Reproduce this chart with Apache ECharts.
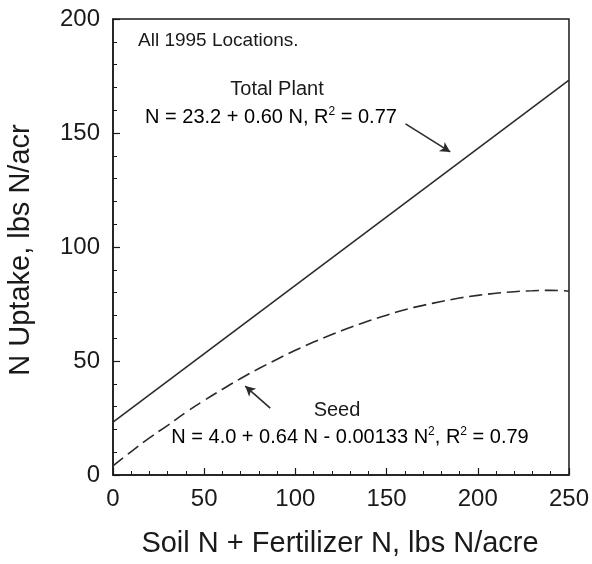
<!DOCTYPE html>
<html>
<head>
<meta charset="utf-8">
<script src="https://cdn.jsdelivr.net/npm/echarts@6/dist/echarts.min.js"></script>
<style>
html,body{margin:0;padding:0;background:#fff;}
#chart{width:592px;height:564px;}
</style>
</head>
<body>
<div id="chart"></div>
<script>
// Data
const totalPlantX = [0, 250];
const totalPlantY = [23.2, 173.2];
const seedX = [0, 10, 20, 30, 40, 50, 60, 70, 80, 90, 100, 110, 120, 130, 140, 150, 160, 170, 180, 190, 200, 210, 220, 230, 240, 250];
const seedY = [4.0, 10.3, 16.3, 21.8, 27.5, 32.7, 37.6, 42.3, 46.7, 50.8, 54.7, 58.3, 61.6, 64.7, 67.5, 70.1, 72.5, 74.4, 76.1, 77.6, 78.8, 79.7, 80.4, 80.8, 81.0, 80.6];
const totalArrow = [[160.4, 154], [184.9, 141.7]];
const seedArrow = [[86.2, 29.3], [72.5, 39]];
const xTicks = [0, 50, 100, 150, 200, 250];
const yTicks = [0, 50, 100, 150, 200];
const xTitle = 'Soil N + Fertilizer N, lbs N/acre';
const yTitle = 'N Uptake, lbs N/acr';
const noteText = 'All 1995 Locations.';
const totalLabel = 'Total Plant';
const seedLabel = 'Seed';

const FONT = '"Liberation Sans", Arial, Helvetica, sans-serif';
const INK = '#1a1a1a';

const chart = echarts.init(document.getElementById('chart'), null, {renderer: 'canvas'});

function pairs(xs, ys) { return xs.map((x, i) => [x, ys[i]]); }

const eqRich = {
  n: {fontSize: 20, fontFamily: FONT, color: INK, lineHeight: 24},
  s: {fontSize: 12, fontFamily: FONT, color: INK, lineHeight: 24, padding: [0, 0, 10, 0]}
};

const option = {
  animation: false,
  backgroundColor: '#fff',
  grid: {left: 113, right: 20, top: 19, bottom: 89, show: true, borderColor: INK, borderWidth: 1.5, backgroundColor: 'transparent'},
  xAxis: {
    type: 'value', min: xTicks[0], max: xTicks[xTicks.length - 1], interval: 50,
    axisLine: {lineStyle: {color: INK, width: 1.5}},
    axisTick: {inside: true, length: 7, lineStyle: {color: INK, width: 1.2}},
    minorTick: {show: true, splitNumber: 5, length: 4, lineStyle: {color: INK, width: 1}},
    splitLine: {show: false},
    axisLabel: {fontSize: 24, fontFamily: FONT, color: INK, margin: 12}
  },
  yAxis: {
    type: 'value', min: yTicks[0], max: yTicks[yTicks.length - 1], interval: 50,
    axisLine: {lineStyle: {color: INK, width: 1.5}},
    axisTick: {inside: true, length: 7, lineStyle: {color: INK, width: 1.2}},
    minorTick: {show: true, splitNumber: 5, length: 4, lineStyle: {color: INK, width: 1}},
    splitLine: {show: false},
    axisLabel: {fontSize: 24, fontFamily: FONT, color: INK, margin: 13}
  },
  series: [
    {
      type: 'line', name: 'Total Plant', data: pairs(totalPlantX, totalPlantY),
      showSymbol: false, symbol: 'none',
      lineStyle: {color: '#2a2a2a', width: 1.6},
      markLine: {
        silent: true, symbol: ['none', 'arrow'], symbolSize: [8, 10],
        lineStyle: {color: '#2a2a2a', width: 1.6, type: 'solid'},
        label: {show: false},
        data: [[{coord: totalArrow[0]}, {coord: totalArrow[1]}]]
      }
    },
    {
      type: 'line', name: 'Seed', data: pairs(seedX, seedY),
      showSymbol: false, symbol: 'none', smooth: true,
      lineStyle: {color: '#2a2a2a', width: 1.6, type: [13, 6]},
      markLine: {
        silent: true, symbol: ['none', 'arrow'], symbolSize: [8, 10],
        lineStyle: {color: '#2a2a2a', width: 1.6, type: 'solid'},
        label: {show: false},
        data: [[{coord: seedArrow[0]}, {coord: seedArrow[1]}]]
      }
    }
  ],
  graphic: [
    {type: 'text', left: 138, top: 31, style: {text: noteText, font: '19px ' + FONT, fill: INK}},
    {type: 'text', x: 277, y: 89, style: {text: totalLabel, font: '20px ' + FONT, fill: INK, textAlign: 'center', textVerticalAlign: 'middle'}},
    {type: 'text', x: 271, y: 117, style: {text: '{n|N = 23.2 + 0.60 N, R}{s|2}{n| = 0.77}', rich: eqRich, textAlign: 'center', textVerticalAlign: 'middle'}},
    {type: 'text', x: 337, y: 410, style: {text: seedLabel, font: '20px ' + FONT, fill: INK, textAlign: 'center', textVerticalAlign: 'middle'}},
    {type: 'text', x: 350, y: 437, style: {text: '{n|N = 4.0 + 0.64 N - 0.00133 N}{s|2}{n|, R}{s|2}{n| = 0.79}', rich: eqRich, textAlign: 'center', textVerticalAlign: 'middle'}},
    {type: 'text', x: 340, y: 544, style: {text: xTitle, font: '29px ' + FONT, fill: INK, textAlign: 'center', textVerticalAlign: 'middle'}},
    {type: 'text', x: 21, y: 250, rotation: Math.PI / 2, style: {text: yTitle, font: '29px ' + FONT, fill: INK, textAlign: 'center', textVerticalAlign: 'middle'}}
  ]
};
chart.setOption(option);
</script>
</body>
</html>
